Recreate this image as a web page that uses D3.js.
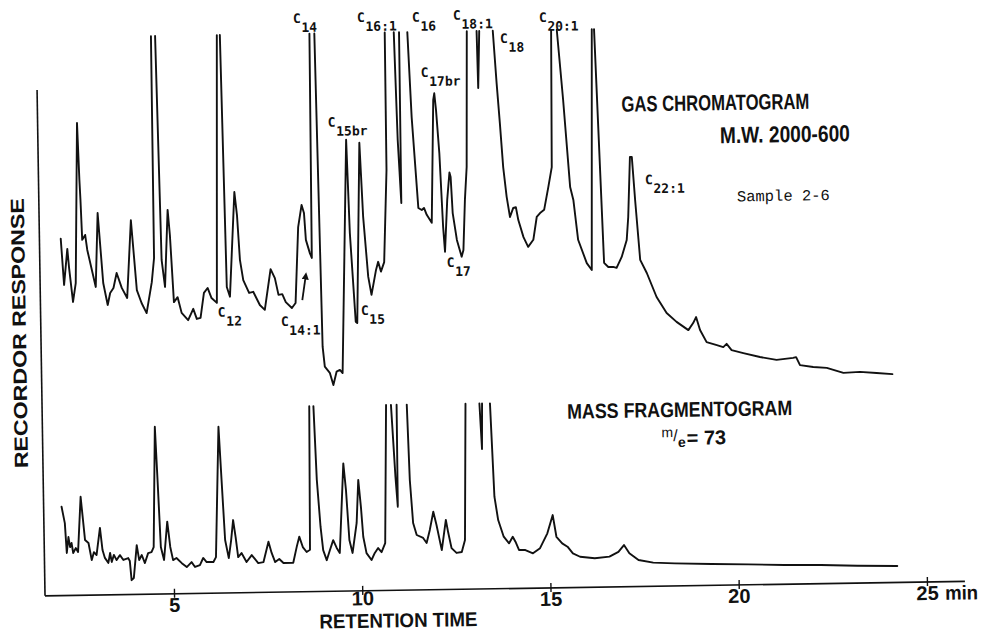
<!DOCTYPE html>
<html>
<head>
<meta charset="utf-8">
<script src="https://cdn.jsdelivr.net/npm/d3@7"></script>
<style>
  html, body { margin: 0; padding: 0; background: #fff; }
  svg { display: block; }
</style>
</head>
<body>
<svg id="chart" width="991" height="633"></svg>
<script>
// Retention time ticks (min)
const timeTicks = [5, 10, 15, 20, 25];

// Gas chromatogram, M.W. 2000-600 fraction: retention time (min) and recorder
// response (% of full scale). null = pen off the top of the chart paper.
const gcTime = [
  2.14, 2.21, 2.31, 2.35, 2.44, 2.52, 2.62, 2.66, 2.68, 2.71, 2.79, 2.84, 3.05, 3.13, 3.25, 3.36, 3.43, 3.52, 3.61, 3.74, 3.88, 4.01, 4.14, 4.26, 4.39, 4.54, 4.61, 4.62,
  4.67,
  4.73, 4.81, 4.89, 4.99, 5.04, 5.12, 5.22, 5.32, 5.49, 5.63, 5.72, 5.82, 5.92, 6.02, 6.12, 6.26, 6.37,
  6.41,
  6.45, 6.53, 6.61, 6.77, 6.83, 6.89, 6.97, 7.12, 7.23, 7.40, 7.53, 7.70, 7.81, 7.90, 8.00, 8.09, 8.25, 8.35, 8.45, 8.55, 8.61, 8.65, 8.75, 8.80, 8.83,
  8.90,
  8.96, 9.05, 9.10, 9.23, 9.32, 9.41, 9.50, 9.57, 9.76, 9.82, 9.94, 9.98, 10.11, 10.18, 10.29, 10.37, 10.50, 10.56, 10.63, 10.72, 10.82, 10.83,
  10.95,
  11.07, 11.13, 11.20, 11.21,
  11.32,
  11.43, 11.51, 11.65, 11.74, 11.80, 11.87, 12.00, 12.09, 12.12, 12.16, 12.23, 12.30, 12.34, 12.42, 12.49, 12.52, 12.56, 12.66, 12.78, 12.83, 12.89, 12.95, 13.01,
  13.14,
  13.27, 13.29, 13.34,
  13.52,
  13.70, 13.78, 13.85, 13.92, 14.00, 14.08, 14.17, 14.24, 14.30, 14.43, 14.55, 14.69, 14.79, 14.88, 14.99, 15.11, 15.21, 15.25,
  15.32,
  15.40, 15.54, 15.69, 15.77, 15.88, 16.10, 16.23, 16.33,
  16.36,
  16.39, 16.56, 16.67, 16.80, 16.89, 17.03, 17.17, 17.22, 17.29, 17.34, 17.41, 17.52, 17.69, 17.94, 18.20, 18.46, 18.77, 18.90, 18.98, 19.08,
  19.25, 19.52, 19.69, 19.78, 19.91, 20.22, 20.66, 21.10, 21.54, 21.62, 21.72, 22.07, 22.43, 22.87, 23.31, 23.75, 24.17
];
const gcResponse = [
  42.5, 29.3, 39.6, 34.1, 24.4, 29.8, 75.5, 59.2, 53.5, 42.1, 43.5, 39.2, 28.6, 49.7, 29.7, 23.4, 26.8, 28.2, 32.5, 28.2, 25.3, 47.5, 27.5, 23.8, 20.9, 29.7, 36.6, 100,
  null,
  100, 36, 28.3, 50.3, 43.1, 23.9, 25.3, 20.8, 18.7, 21.9, 19, 19.3, 26.4, 27.8, 24.9, 23.5, 100,
  null,
  100, 28, 25.2, 55.1, 48.5, 35.7, 29.9, 26.2, 26.5, 22.7, 21.3, 32.9, 30.3, 25.5, 25.7, 23.4, 21.7, 23.1, 44.8, 51.1, 48.8, 41.1, 37.3, 35.9, 100,
  null,
  100, 10.5, 4.8, 3.0, -0.5, 3.3, 3.8, 2.9, 69.5, 42.9, 17.5, 17.1, 68.6, 47.5, 30.3, 25.1, 32.2, 34.5, 31.7, 34.4, 60.7, 100,
  null,
  100, 69.2, 51.2, 100,
  null,
  100, 75.7, 49.7, 49.1, 49.7, 47.7, 45.4, 80.5, 82.4, 77.6, 65.3, 44.2, 37.1, 51.9, 59.7, 58.4, 48.1, 40.4, 35.6, 37.5, 51.8, 61.2, 100,
  null,
  100, 83.7, 100,
  null,
  100, 85.1, 73.6, 61, 52.5, 46.7, 49.3, 49.5, 45.8, 40.9, 38.1, 40.1, 46.6, 47.7, 48.6, 55.1, 60.8, 100,
  null,
  100, 79.9, 55, 51.3, 39.9, 33.2, 31.2, 100,
  null,
  100, 33.2, 32, 32, 31.7, 34.8, 39.6, 46.2, 63.3, 63.3, 51, 33.9, 30.1, 23.2, 18.6, 16, 13.6, 15.6, 17.3, 13.6,
  10.1, 9.2, 8.6, 9.5, 7.7, 6.8, 5.6, 4.7, 5.2, 5.4, 3.1, 2.5, 2.2, 0.7, 0.9, 0.5, 0.1
];

// Mass fragmentogram, m/e = 73: retention time (min) and response (% of full scale)
const mfTime = [
  2.05, 2.13, 2.17, 2.22, 2.26, 2.30, 2.34, 2.41, 2.47, 2.56, 2.62, 2.66, 2.75, 2.83, 2.89, 2.96, 3.06, 3.12, 3.18, 3.27,
  3.32, 3.36, 3.42, 3.49, 3.58, 3.67, 3.80, 3.84, 3.88, 3.94, 4.03, 4.09, 4.16, 4.24, 4.33, 4.42, 4.48, 4.56, 4.61, 4.67,
  4.75, 4.85, 4.92, 4.99, 5.08, 5.22, 5.35, 5.48, 5.57, 5.70, 5.79, 5.88, 6.06, 6.13, 6.25, 6.31, 6.38, 6.47, 6.54, 6.60,
  6.66, 6.72, 6.81, 6.94, 7.08, 7.25, 7.39, 7.53, 7.61, 7.70, 7.81, 7.92, 8.18, 8.28, 8.35, 8.44, 8.54, 8.63, 8.67,
  8.72,
  8.78, 8.84, 8.92, 8.98, 9.07, 9.16, 9.25, 9.34, 9.42, 9.55, 9.61, 9.68, 9.76, 9.88, 9.94, 10.00, 10.05, 10.13, 10.26, 10.35, 10.44, 10.53, 10.63, 10.71,
  10.78,
  10.84, 10.93, 10.98, 10.99,
  11.10,
  11.26, 11.31, 11.38, 11.47, 11.64, 11.73, 11.82, 11.92, 12.00, 12.13, 12.25, 12.31, 12.39, 12.52, 12.66, 12.75, 12.82,
  13.00,
  13.19, 13.24, 13.26,
  13.36,
  13.47, 13.55, 13.64, 13.78, 13.92, 14.02, 14.09, 14.18, 14.35, 14.55, 14.74, 14.94, 15.09, 15.18, 15.33, 15.47, 15.61, 15.80,
  16.19, 16.58, 16.82, 16.97, 17.11, 17.35, 17.74, 18.31, 19.29, 20.26, 21.22, 22.19, 23.16, 24.22
];
const mfResponse = [
  46.3, 37.2, 20.6, 29.4, 23.8, 26.1, 20.5, 23.2, 21, 51.7, 37.1, 27.6, 25.9, 16.4, 20.8, 19.2, 34.2, 21.9, 17.5, 14.7,
  20.2, 15.2, 19.1, 16.2, 18.9, 16.2, 17.2, 15.6, 4.9, 6.1, 24.3, 16, 18.8, 14.3, 19.8, 20.3, 23.1, 89.9, 60.3, 23.1,
  15.8, 37.1, 23, 15.7, 16.8, 13.9, 11.7, 14.4, 11.7, 12.7, 16.6, 14.3, 14.3, 17, 89.4, 59.8, 26.4, 16.3, 26.3, 37.4,
  27.9, 16.8, 19, 14, 17.8, 13.3, 13.8, 25.1, 18.8, 13.7, 15.4, 13.1, 13.2, 22.1, 27.6, 21.8, 19, 20.2, 100,
  null,
  100, 59, 32.8, 19.9, 14.3, 19.9, 25.4, 21, 18.2, 67.9, 53.1, 25.3, 18.1, 34.7, 58.6, 43.6, 27, 17.9, 14, 17.9, 20.6, 18.3, 23.3, 100,
  null,
  100, 60, 43.4, 100,
  null,
  100, 58, 34.2, 27.5, 25.8, 23, 30.2, 40.3, 32.9, 18.9, 35.6, 28.3, 19.9, 17.2, 17.7, 24.3, 100,
  null,
  100, 74.7, 100,
  null,
  100, 48.1, 35.1, 25.8, 22.1, 25.7, 22.9, 18.3, 18.2, 16.3, 19.1, 27.3, 37.4, 25.3, 21.6, 19.7, 15.9, 14,
  13, 13.8, 16.4, 20.1, 15.5, 11.7, 10.1, 9.5, 8.8, 8.3, 7.6, 7.3, 6.6, 6.1
];

// Peak identifications on the gas chromatogram (carbon number of the fatty acid)
const peakNames = ["14", "15br", "12", "14:1", "16:1", "16", "18:1", "18", "17br", "20:1", "15", "17", "22:1"];
// where each label sits, in retention time / response units
const peakLabelTime = [8.40, 9.28, 6.28, 7.95, 10.10, 11.56, 12.65, 13.89, 11.77, 14.93, 10.08, 12.38, 17.68];
const peakLabelResponse = [103.1, 73.3, 19.5, 16.6, 103.1, 102.9, 103.3, 96.5, 87.1, 102.3, 19.4, 32.7, 55.5];

const gcData = gcTime.map((t, i) => ({ t, r: gcResponse[i] }));
const mfData = mfTime.map((t, i) => ({ t, r: mfResponse[i] }));

const svg = d3.select("#chart");

// the chart sheet sits slightly tilted
const sheet = svg.append("g").attr("transform", "rotate(-0.9 480 400)");

const x = d3.scaleLinear().domain([5, 25]).range([171, 924]);
const yGC = d3.scaleLinear().domain([0, 100]).range([381, 31]);
const yMF = d3.scaleLinear().domain([0, 100]).range([583.5, 403.5]);

const axisY = 589, axisLeft = 42, axisRight = 962, axisTop = 83;
const sans = "'Liberation Sans', Arial, sans-serif";

// recorder traces
const traceStyle = sel => sel.attr("fill", "none").attr("stroke", "#111")
  .attr("stroke-width", 1.9).attr("stroke-linejoin", "round").attr("stroke-linecap", "round");

const gcLine = d3.line().defined(d => d.r !== null).x(d => x(d.t)).y(d => yGC(d.r));
const mfLine = d3.line().defined(d => d.r !== null).x(d => x(d.t)).y(d => yMF(d.r));

sheet.append("path").datum(gcData).attr("d", gcLine).call(traceStyle);
sheet.append("path").datum(mfData).attr("d", mfLine).call(traceStyle);

// axes
sheet.append("line")
  .attr("x1", axisLeft).attr("y1", axisTop).attr("x2", axisLeft).attr("y2", axisY)
  .attr("stroke", "#111").attr("stroke-width", 1.6);

const xAxis = sheet.append("g")
  .attr("transform", `translate(0,${axisY})`)
  .call(d3.axisBottom(x).tickValues(timeTicks).tickSize(0).tickFormat(d3.format("d")));
xAxis.select(".domain").remove();
xAxis.append("line")
  .attr("x1", axisLeft).attr("x2", axisRight).attr("y1", 0).attr("y2", 0)
  .attr("stroke", "#111").attr("stroke-width", 1.6);
xAxis.selectAll(".tick line")
  .attr("y1", -5).attr("y2", 4).attr("stroke", "#111").attr("stroke-width", 1.4);
// the 10 min label was lettered tight against the axis line
xAxis.selectAll(".tick text")
  .attr("y", d => d === 10 ? 14.5 : 18).attr("dy", 0)
  .attr("font-family", sans).attr("font-weight", "bold")
  .attr("font-size", 20).attr("fill", "#111");

sheet.append("text")
  .attr("x", x(25) + 18).attr("y", axisY + 18)
  .attr("font-family", sans).attr("font-weight", "bold")
  .attr("font-size", 20).attr("fill", "#111")
  .attr("textLength", 33).attr("lengthAdjust", "spacingAndGlyphs")
  .text("min");

// axis titles
sheet.append("text")
  .attr("x", 316).attr("y", 626)
  .attr("font-family", sans).attr("font-weight", "bold")
  .attr("font-size", 20).attr("fill", "#111")
  .attr("textLength", 158).attr("lengthAdjust", "spacingAndGlyphs")
  .text("RETENTION TIME");

sheet.append("text")
  .attr("transform", "translate(27,326) rotate(-90)")
  .attr("text-anchor", "middle")
  .attr("font-family", sans).attr("font-weight", "bold")
  .attr("font-size", 19).attr("fill", "#111")
  .attr("textLength", 270).attr("lengthAdjust", "spacingAndGlyphs")
  .text("RECORDOR RESPONSE");

// trace titles
const title = (tx, ty, size, len, str) => sheet.append("text")
  .attr("x", tx).attr("y", ty)
  .attr("font-family", sans).attr("font-weight", "bold")
  .attr("font-size", size).attr("fill", "#111")
  .attr("textLength", len).attr("lengthAdjust", "spacingAndGlyphs")
  .text(str);

title(626, 114, 22, 188, "GAS CHROMATOGRAM");
title(724, 147, 23, 130, "M.W. 2000-600");
title(567, 420, 21, 225, "MASS FRAGMENTOGRAM");

sheet.append("text")
  .attr("x", 740).attr("y", 205.5)
  .attr("font-family", "'Liberation Mono', 'Courier New', monospace")
  .attr("font-size", 15.5).attr("fill", "#111")
  .attr("textLength", 93).attr("lengthAdjust", "spacingAndGlyphs")
  .text("Sample 2-6");

// m/e = 73
const me = sheet.append("text")
  .attr("x", 661).attr("y", 448)
  .attr("font-family", sans).attr("font-weight", "bold")
  .attr("fill", "#111");
me.append("tspan").attr("font-size", 14).attr("font-weight", "normal").attr("dy", -8).text("m");
me.append("tspan").attr("font-size", 16).attr("font-weight", "normal").attr("dy", 4).text("/");
me.append("tspan").attr("font-size", 14).attr("dy", 6).text("e");
me.append("tspan").attr("font-size", 20).attr("dx", 1).attr("dy", -2).text("= 73");

// peak labels: C with the carbon number as subscript
const labels = sheet.append("g")
  .attr("font-family", "'DejaVu Sans Mono', monospace")
  .attr("font-weight", "bold").attr("font-size", 13).attr("fill", "#111");
peakNames.forEach((name, i) => {
  const t = labels.append("text")
    .attr("x", x(peakLabelTime[i])).attr("y", yGC(peakLabelResponse[i]));
  t.append("tspan").text("C");
  t.append("tspan").attr("dx", 0.5).attr("dy", 9).text(name);
});

// arrow pointing to the C14:1 shoulder
const defs = svg.append("defs");
defs.append("marker")
  .attr("id", "arrowHead").attr("viewBox", "0 0 10 10")
  .attr("refX", 5).attr("refY", 5).attr("markerWidth", 4).attr("markerHeight", 4)
  .attr("orient", "auto-start-reverse")
  .append("path").attr("d", "M0,0 L10,5 L0,10 z").attr("fill", "#111");
sheet.append("line")
  .attr("x1", x(8.53)).attr("y1", yGC(23.9))
  .attr("x2", x(8.63)).attr("y2", yGC(30.8))
  .attr("stroke", "#111").attr("stroke-width", 1.8)
  .attr("marker-end", "url(#arrowHead)");
</script>
</body>
</html>
